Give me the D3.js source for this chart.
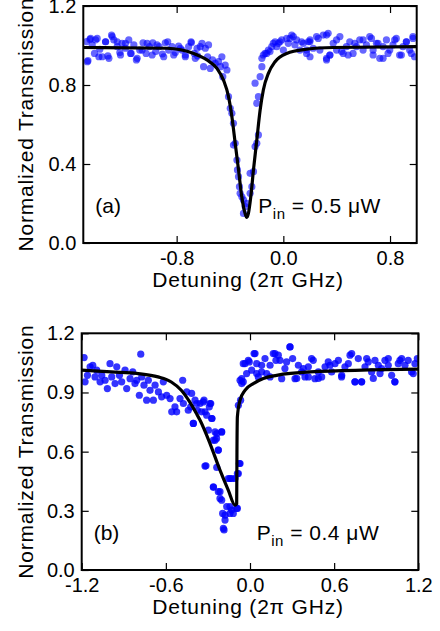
<!DOCTYPE html>
<html>
<head>
<meta charset="UTF-8">
<script src="https://d3js.org/d3.v7.min.js"></script>
<style>
  body { margin: 0; background: #fff; }
  svg { display: block; font-family: "Liberation Sans", Arial, sans-serif; }
</style>
</head>
<body>
<svg class="chart"></svg>
<script>

// panel (a) data
var aXTicks = [-0.8, 0.0, 0.8];
var aYTicks = [0.0, 0.4, 0.8, 1.2];
var aPoints = [
  [-1.475,1.02],[-1.465,0.923],[-1.45,1.031],[-1.433,1.003],[-1.416,0.96],[-1.396,1.036],[-1.376,0.981],
  [-1.358,0.943],[-1.333,1.019],[-1.316,0.947],[-1.288,1.053],[-1.271,1.028],[-1.246,0.994],[-1.226,0.964],
  [-1.209,1.011],[-1.184,0.986],[-1.159,1.028],[-1.141,0.96],[-1.121,1.003],[-1.102,0.927],[-1.077,0.977],
  [-1.052,1.014],[-1.029,0.96],[-1.004,0.994],[-0.979,1.014],[-0.957,0.969],[-0.932,0.994],[-0.907,0.957],
  [-0.885,1.014],[-0.86,0.977],[-0.835,0.994],[-0.81,0.964],[-0.785,0.997],[-0.76,0.977],[-0.735,0.952],
  [-0.71,0.994],[-0.69,1.014],[-0.668,0.96],[-0.643,0.947],[-0.623,0.994],[-0.61,1.011],[-0.598,0.893],
  [-0.585,0.986],[-0.568,0.943],[-0.561,1.003],[-0.548,0.884],[-0.531,0.927],[-0.511,0.91],[-0.486,0.918],
  [-0.471,0.893],[-0.461,0.943],[-0.454,0.842],[-0.436,0.901],[-0.423,0.876],
  [-1.47,0.918],[-1.445,1.036],[-1.408,1.028],[-1.383,0.943],[-1.333,1.019],[-1.308,0.935],[-1.283,1.045],
  [-1.246,1.019],[-1.221,0.952],[-1.184,1.011],[-1.146,0.96],[-1.096,0.935],[-1.059,0.977],[-1.021,1.011],
  [-0.984,0.952],[-0.947,1.003],[-0.897,0.943],[-0.867,1.019],[-0.822,0.952],[-0.772,0.986],[-0.735,0.943],
  [-0.692,1.019],[-0.66,0.935],[-0.647,0.986],
  [-0.411,0.741],[-0.398,0.682],[-0.386,0.657],[-0.374,0.606],[-0.361,0.505],[-0.374,0.496],[-0.348,0.42],
  [-0.344,0.37],[-0.336,0.336],[-0.329,0.285],[-0.324,0.252],[-0.311,0.234],[-0.299,0.218],[-0.299,0.15],
  [-0.286,0.184],[-0.274,0.201],[-0.249,0.252],[-0.236,0.285],[-0.249,0.353],[-0.224,0.361],[-0.212,0.488],
  [-0.199,0.505],[-0.187,0.547],[-0.199,0.707],[-0.187,0.741],[-0.212,0.809],[-0.174,0.842],[-0.161,0.893],
  [-0.161,0.935],[-0.15,0.952],[-0.137,0.96],[-0.125,0.96],[-0.112,0.977],[-0.1,0.969],[-0.087,0.994],
  [-0.075,1.011],[-0.062,1.019],[-0.05,0.994],[-0.037,1.011],[-0.025,1.019],[-0.012,1.028],[0.0,0.977],
  [0.025,1.036],[0.037,1.011],[0.05,1.036],[0.063,1.053],[0.075,1.045],[0.087,1.003],[0.1,1.028],
  [0.125,0.977],[0.137,1.019],[0.15,1.011],[0.174,0.96],[0.175,0.977],[0.199,1.019],[0.2,1.028],
  [0.224,0.986],[0.249,1.045],[0.274,0.977],[0.299,1.053],[0.324,0.927],[0.336,1.062],[0.349,0.952],
  [0.374,1.011],[0.399,0.977],[0.424,1.045],[0.449,0.96],[0.473,0.994],[0.498,1.019],[0.523,0.96],
  [0.548,0.994],[0.573,1.028],[0.598,0.977],[0.623,1.003],[0.648,1.045],[0.673,0.977],[0.698,1.011],
  [0.723,0.935],[0.748,0.994],[0.773,1.028],[0.798,0.977],[0.822,1.003],[0.847,1.036],[0.872,0.952],
  [0.897,0.994],[0.922,1.019],[0.947,0.977],[0.972,1.045],[0.984,0.943],
  [0.187,1.019],[0.2,0.943],[0.262,1.036],[0.324,1.053],[0.324,0.935],[0.349,0.952],[0.399,1.028],
  [0.437,0.969],[0.486,0.952],[0.536,1.011],[0.598,1.028],[0.661,1.036],[0.673,0.952],[0.71,1.011],
  [0.748,0.935],[0.785,0.96],[0.835,1.028],[0.885,0.952],[0.923,1.019],[0.96,0.96],[0.972,1.036]
];
var aFit = [
  [-1.5,0.99],[-0.872,0.986],[-0.673,0.96],[-0.573,0.927],[-0.498,0.884],[-0.449,0.825],[-0.411,0.741],
  [-0.386,0.64],[-0.361,0.505],[-0.336,0.37],[-0.312,0.235],[-0.287,0.15],[-0.274,0.13],[-0.262,0.15],
  [-0.244,0.235],[-0.224,0.37],[-0.199,0.522],[-0.174,0.673],[-0.15,0.775],[-0.112,0.859],[-0.062,0.918],
  [0.025,0.96],[0.174,0.981],[0.374,0.99],[1.0,0.994]
];

// panel (b) data
var bXTicks = [-1.2, -0.6, 0.0, 0.6, 1.2];
var bYTicks = [0.0, 0.3, 0.6, 0.9, 1.2];
var bPoints = [
  [-1.183,1.077],[-1.176,0.954],[-1.159,0.987],[-1.14,1.03],[-1.121,1.038],[-1.105,0.979],[-1.093,1.013],
  [-1.069,0.954],[-1.057,0.987],[-1.033,0.962],[-1.017,0.92],[-0.998,1.046],[-0.986,0.979],[-0.962,0.945],
  [-0.95,1.03],[-0.931,0.987],[-0.915,0.954],[-0.891,1.013],[-0.879,0.92],[-0.855,0.97],[-0.836,1.004],
  [-0.82,0.945],[-0.808,0.962],[-0.789,0.886],[-0.779,1.094],[-0.772,0.979],[-0.756,0.937],[-0.737,0.861],
  [-0.725,0.962],[-0.713,0.911],[-0.689,0.861],[-0.677,0.937],[-0.653,0.903],[-0.63,0.878],[-0.618,0.954],
  [-0.594,0.886],[-0.57,0.869],[-0.558,0.802],[-0.535,0.827],[-0.523,0.802],[-0.499,0.869],[-0.48,0.962],
  [-0.475,0.844],[-0.451,0.903],[-0.44,0.81],[-0.423,0.827],[-0.404,0.743],[-0.392,0.861],[-0.375,0.81],
  [-0.356,0.844],[-0.345,0.802],[-0.328,0.861],[-0.309,0.785],[-0.29,0.827],[-0.28,0.844],[-0.271,0.768],
  [-0.297,0.709],[-0.261,0.658],[-0.249,0.7],[-0.238,0.667],[-0.226,0.608],[-0.314,0.528],[-0.261,0.419],
  [-0.226,0.397],[-0.214,0.363],[-0.202,0.7],[-0.195,0.287],[-0.185,0.203],[-0.178,0.253],[-0.166,0.321],
  [-0.143,0.464],[-0.131,0.304],[-0.119,0.287],[-0.107,0.464],[-0.09,0.312],[-0.09,0.489],[-0.071,0.54],
  [-0.083,0.835],[-0.067,0.861],[-0.059,0.97],[-0.048,0.954],[-0.036,1.046],[-0.024,0.996],[-0.005,1.055],
  [0.012,1.013],[0.029,1.097],[0.048,1.046],[0.059,0.979],[0.083,1.038],[0.107,1.072],[0.119,0.996],
  [0.143,1.038],[0.166,1.097],[0.185,1.063],[0.202,1.089],[0.226,0.97],[0.249,1.021],[0.261,1.055],
  [0.285,1.131],[0.304,1.072],[0.321,0.97],[0.345,1.038],[0.368,1.004],[0.392,0.979],[0.416,1.03],
  [0.439,1.072],[0.463,0.97],[0.487,1.004],[0.511,0.979],[0.535,1.03],[0.558,1.055],[0.582,1.004],
  [0.606,1.046],[0.63,1.063],[0.653,0.979],[0.677,1.03],[0.701,1.046],[0.725,1.097],[0.748,0.954],
  [0.772,1.072],[0.796,0.954],[0.82,1.03],[0.843,1.055],[0.867,1.004],[0.891,1.063],[0.915,1.038],
  [0.938,1.021],[0.962,1.063],[0.986,1.038],[1.01,0.987],[1.033,0.954],[1.057,1.046],[1.081,1.072],
  [1.105,1.038],[1.128,1.063],[1.152,1.004],[1.176,1.046],[1.193,1.072],
  [-0.071,0.962],[-0.059,0.945],[-0.048,1.046],[-0.012,1.063],[0.036,1.097],[0.048,0.996],[0.083,1.004],
  [0.143,0.979],[0.178,1.097],[0.214,1.063],[0.285,1.131],[0.333,0.971],
  [-0.416,0.895],[-0.404,0.743],[-0.38,0.844],[-0.333,0.852],[-0.321,0.802],[-0.285,0.844],[-0.273,0.768],
  [-0.249,0.658],[-0.237,0.692],[-0.202,0.7],[-0.226,0.608],[-0.321,0.527],[-0.237,0.52],[-0.155,0.464],
  [-0.13,0.464],[-0.261,0.422],[-0.214,0.397],[-0.202,0.354],[-0.143,0.321],[-0.178,0.278],[-0.143,0.287],
  [-0.095,0.312],[-0.19,0.211],[-0.083,0.489],[-0.076,0.54],
  [0.38,1.021],[0.416,0.979],[0.451,1.063],[0.487,0.971],[0.57,1.038],[0.654,0.987],[0.713,1.089],
  [0.749,0.954],[0.796,0.954],[0.832,1.072],[0.879,0.971],[0.927,0.996],[0.986,1.072],[1.033,0.954],
  [1.069,1.063],[1.164,0.996]
];
var bFit = [
  [-1.2,1.013],[-0.989,1.004],[-0.798,0.996],[-0.656,0.979],[-0.561,0.953],[-0.49,0.911],[-0.43,0.852],
  [-0.382,0.793],[-0.356,0.759],[-0.285,0.641],[-0.214,0.506],[-0.155,0.405],[-0.107,0.329],[-0.095,0.335],
  [-0.093,0.6],[-0.09,0.776],[-0.071,0.861],[-0.036,0.911],[0.024,0.945],[0.095,0.971],[0.19,0.987],
  [0.428,1.004],[1.2,1.018]
];

var width = 440, height = 631;

var panels = [
  { left: 83.3, right: 416.7, top: 6, bottom: 243, xDomain: [-1.5, 1.0],
    xTicks: aXTicks, yTicks: aYTicks, points: aPoints, fit: aFit, dotOpacity: 0.6,
    tag: "(a)", power: "0.5" },
  { left: 81.7, right: 418.3, top: 333.3, bottom: 570, xDomain: [-1.2, 1.2],
    xTicks: bXTicks, yTicks: bYTicks, points: bPoints, fit: bFit, dotOpacity: 0.8,
    tag: "(b)", power: "0.4" }
];

var chart = d3.select(".chart")
              .attr("width", width)
              .attr("height", height);

panels.forEach(function(p, i) {
  var x = d3.scaleLinear().domain(p.xDomain).range([p.left, p.right]);
  var y = d3.scaleLinear().domain([0, 1.2]).range([p.bottom, p.top]);
  var g = chart.append("g").attr("id", "panel" + i);

  g.append("clipPath").attr("id", "clip" + i)
   .append("rect")
   .attr("x", p.left).attr("y", p.top)
   .attr("width", p.right - p.left).attr("height", p.bottom - p.top);

  var fmt = function(d) { return d.toFixed(1); };
  var tick = 7;

  // axes: labelled bottom/left, mirrored ticks top/right, all pointing in
  g.append("g").attr("transform", "translate(0," + p.bottom + ")")
   .call(d3.axisBottom(x).tickValues(p.xTicks).tickSize(-tick).tickPadding(8).tickFormat(fmt));
  g.append("g").attr("transform", "translate(0," + p.top + ")")
   .call(d3.axisTop(x).tickValues(p.xTicks).tickSize(-tick).tickFormat(""));
  g.append("g").attr("transform", "translate(" + p.left + ",0)")
   .call(d3.axisLeft(y).tickValues(p.yTicks).tickSize(-tick).tickPadding(7).tickFormat(fmt));
  g.append("g").attr("transform", "translate(" + p.right + ",0)")
   .call(d3.axisRight(y).tickValues(p.yTicks).tickSize(-tick).tickFormat(""));

  g.selectAll(".domain").remove();
  g.selectAll(".tick line").attr("stroke", "#000").attr("stroke-width", 1.2);
  g.selectAll(".tick text")
   .attr("font-size", 20)
   .attr("font-family", "'Liberation Sans', Arial, sans-serif")
   .attr("fill", "#000");

  var plot = g.append("g").attr("clip-path", "url(#clip" + i + ")");

  plot.append("g").selectAll("circle")
      .data(p.points)
      .enter().append("circle")
      .attr("r", 3.6)
      .attr("cx", function(d) { return x(d[0]); })
      .attr("cy", function(d) { return y(d[1]); })
      .attr("fill", "#0000ff")
      .attr("fill-opacity", p.dotOpacity);

  plot.append("path")
      .datum(p.fit)
      .attr("fill", "none")
      .attr("stroke", "#000")
      .attr("stroke-width", 3.2)
      .attr("stroke-linejoin", "round")
      .attr("d", d3.line()
                   .x(function(d) { return x(d[0]); })
                   .y(function(d) { return y(d[1]); })
                   .curve(d3.curveMonotoneX));

  // frame
  g.append("rect")
   .attr("x", p.left).attr("y", p.top)
   .attr("width", p.right - p.left).attr("height", p.bottom - p.top)
   .attr("fill", "none").attr("stroke", "#000").attr("stroke-width", 2);

  // axis titles
  g.append("text")
   .attr("x", (p.left + p.right) / 2 - 2)
   .attr("y", p.bottom + 44)
   .attr("text-anchor", "middle")
   .attr("font-size", 21)
   .attr("letter-spacing", 0.8)
   .text("Detuning (2\u03c0 GHz)");

  g.append("text")
   .attr("transform", "translate(33," + (p.top + p.bottom) / 2 + ") rotate(-90)")
   .attr("text-anchor", "middle")
   .attr("font-size", 21)
   .attr("letter-spacing", 0.8)
   .text("Normalized Transmission");

  // annotations
  g.append("text")
   .attr("x", p.left + 12)
   .attr("y", p.bottom - 30)
   .attr("font-size", 21)
   .text(p.tag);

  var pin = g.append("text")
   .attr("x", p.left + 175)
   .attr("y", p.bottom - 30)
   .attr("font-size", 21)
   .attr("letter-spacing", 0.5);
  pin.append("tspan").text("P");
  pin.append("tspan").attr("font-size", 15).attr("dy", 6).text("in");
  pin.append("tspan").attr("dy", -6).text(" = " + p.power + " \u03bcW");
});

</script>
</body>
</html>
